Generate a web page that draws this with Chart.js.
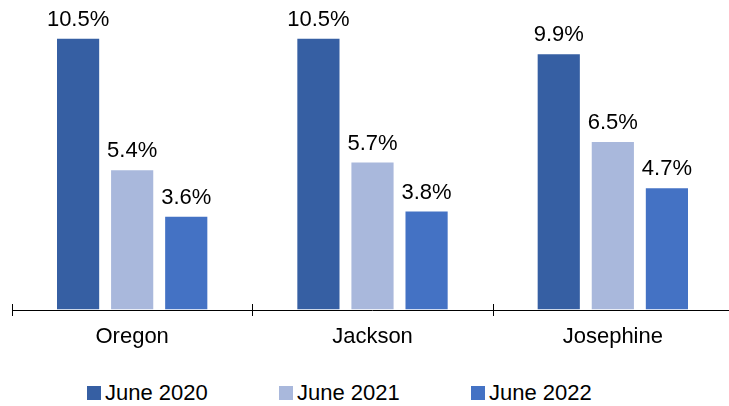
<!DOCTYPE html>
<html>
<head>
<meta charset="utf-8">
<script src="https://cdn.jsdelivr.net/npm/chart.js@4/dist/chart.umd.min.js"></script>
<style>
  html, body { margin: 0; padding: 0; background: #fff; overflow: hidden; }
  #wrap { position: relative; width: 745px; height: 356px; }
  #legend { position: absolute; left: 87px; top: 380px; display: flex;
            font: 22px 'Liberation Sans', Arial, sans-serif; color: #000; }
  #legend .item { display: flex; align-items: center; width: 192px; }
  #legend .box { width: 14px; height: 14px; margin-right: 4px; }
</style>
</head>
<body>
<div id="wrap"><canvas id="chart"></canvas></div>
<div id="legend"></div>
<script>
// values
const categories = ['Oregon', 'Jackson', 'Josephine'];
const seriesNames = ['June 2020', 'June 2021', 'June 2022'];
const june2020 = [10.5, 10.5, 9.9];
const june2021 = [5.4, 5.7, 6.5];
const june2022 = [3.6, 3.8, 4.7];
const colors = ['#365FA3', '#A9B8DC', '#4472C4'];

const font = "'Liberation Sans', Arial, sans-serif";

// labels above each bar
const valueLabels = {
    id: 'valueLabels',
    afterDatasetsDraw(chart) {
        const ctx = chart.ctx;
        ctx.save();
        ctx.font = '22px ' + font;
        ctx.fillStyle = '#000';
        ctx.textAlign = 'center';
        ctx.textBaseline = 'alphabetic';
        chart.data.datasets.forEach((ds, i) => {
            chart.getDatasetMeta(i).data.forEach((bar, j) => {
                ctx.fillText(ds.data[j].toFixed(1) + '%', bar.x, bar.y - 13);
            });
        });
        ctx.restore();
    }
};

// axis line with tick marks crossing it at category boundaries
const axisTicks = {
    id: 'axisTicks',
    afterDraw(chart) {
        const x = chart.scales.x;
        const ctx = chart.ctx;
        const y0 = Math.round(chart.chartArea.bottom);
        const step = x.getPixelForValue(1) - x.getPixelForValue(0);
        ctx.save();
        ctx.strokeStyle = '#000';
        ctx.lineWidth = 1;
        ctx.beginPath();
        ctx.moveTo(x.left, y0 + 0.5);
        ctx.lineTo(x.right, y0 + 0.5);
        for (let i = 0; i <= categories.length; i++) {
            const px = Math.round(x.getPixelForValue(0) - step / 2 + i * step) + 0.5;
            ctx.moveTo(px, y0 - 6);
            ctx.lineTo(px, y0 + 6);
        }
        ctx.stroke();
        ctx.restore();
    }
};

const datasets = [june2020, june2021, june2022].map((d, i) => ({
    label: seriesNames[i],
    data: d,
    backgroundColor: colors[i],
    categoryPercentage: 0.675,
    barPercentage: 0.78
}));

new Chart(document.getElementById('chart'), {
    type: 'bar',
    data: { labels: categories, datasets: datasets },
    options: {
        responsive: true,
        maintainAspectRatio: false,
        animation: false,
        layout: { padding: { left: 12, right: 12, top: 0, bottom: 0 } },
        plugins: {
            tooltip: { enabled: false },
            legend: { display: false }
        },
        scales: {
            x: {
                grid: { display: false, tickLength: 8 },
                border: { display: false },
                ticks: { font: { size: 22, family: font }, color: '#000', padding: 6 }
            },
            y: {
                display: false,
                min: 0,
                max: 12
            }
        }
    },
    plugins: [valueLabels, axisTicks]
});

// legend
const legend = document.getElementById('legend');
seriesNames.forEach((name, i) => {
    const item = document.createElement('div');
    item.className = 'item';
    item.innerHTML = `<span class="box" style="background:${colors[i]}"></span><span>${name}</span>`;
    legend.appendChild(item);
});
</script>
</body>
</html>
